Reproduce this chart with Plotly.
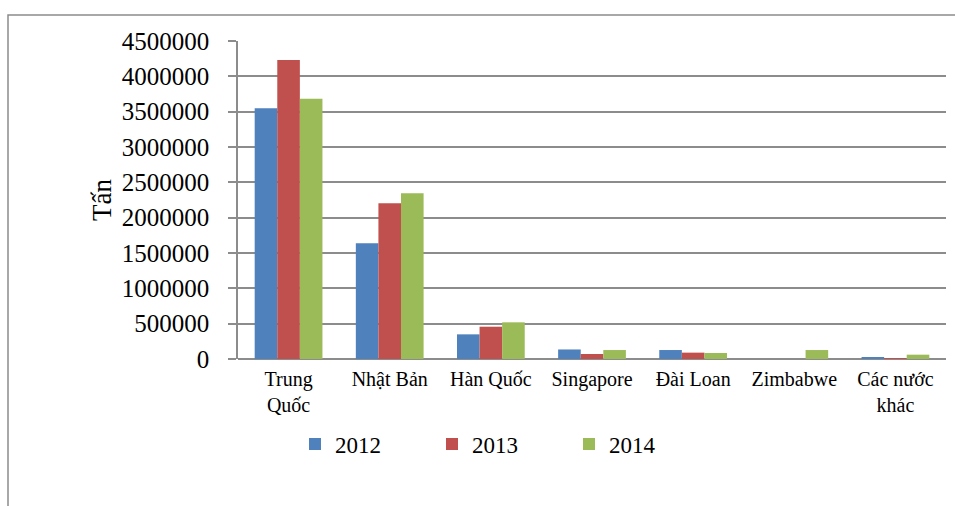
import plotly.graph_objects as go

# Tonnage by destination, 2012-2014
countries = ["Trung<br>Quốc", "Nhật Bản", "Hàn Quốc", "Singapore", "Đài Loan", "Zimbabwe", "Các nước<br>khác"]
years = ["2012", "2013", "2014"]
tons_2012 = [3548000, 1637000, 349000, 135000, 127000, 0, 28000]
tons_2013 = [4231000, 2203000, 457000, 71000, 90000, 0, 14000]
tons_2014 = [3683000, 2345000, 519000, 127000, 85000, 127000, 61000]
colors = ["#4F81BD", "#C0504D", "#9BBB59"]

y_ticks = [0, 500000, 1000000, 1500000, 2000000, 2500000, 3000000, 3500000, 4000000, 4500000]

W, H = 955, 506
ML, MR, MT, MB = 238, 9, 41, 147
PW, PH = W - ML - MR, H - MT - MB

fig = go.Figure()
for name, vals, col in zip(years, [tons_2012, tons_2013, tons_2014], colors):
    fig.add_trace(go.Bar(
        x=countries, y=vals, name=name,
        marker=dict(color=col, line=dict(width=0)),
    ))

serif = "Liberation Serif"

# outer frame of the chart area (top and left edges visible)
fig.add_shape(type="rect", xref="paper", yref="paper",
              x0=(8 - ML) / PW, x1=(W + 20 - ML) / PW,
              y0=(H - MB - (H + 20)) / PH, y1=(H - MB - 15) / PH,
              line=dict(color="#8C8C8C", width=1.5), fillcolor="rgba(0,0,0,0)", layer="below")

fig.update_layout(
    width=W, height=H,
    margin=dict(l=ML, r=MR, t=MT, b=MB, pad=0),
    paper_bgcolor="white", plot_bgcolor="white",
    barmode="group", bargap=0.33, bargroupgap=0,
    font=dict(family=serif, color="#000000"),
    showlegend=True,
    legend=dict(orientation="h", x=(295 - ML) / PW, xanchor="left",
                y=(H - MB - 444) / PH, yanchor="middle",
                font=dict(size=23, family=serif),
                entrywidth=92, entrywidthmode="pixels",
                itemwidth=30, traceorder="normal", bgcolor="rgba(0,0,0,0)"),
    xaxis=dict(
        type="category",
        showgrid=False, showline=False, ticks="",
        tickfont=dict(size=20, family=serif),
        ticklabelstandoff=6,
        fixedrange=True,
    ),
    yaxis=dict(
        range=[0, 4500000],
        tickvals=y_ticks, ticktext=[str(v) for v in y_ticks],
        showgrid=True, gridcolor="#8C8C8C", gridwidth=2,
        showline=True, linecolor="#8C8C8C", linewidth=1.5,
        zeroline=True, zerolinecolor="#8C8C8C", zerolinewidth=2,
        ticks="outside", ticklen=8, tickcolor="#8C8C8C", tickwidth=1.5,
        tickfont=dict(size=25, family=serif),
        ticklabelstandoff=14,
        title=dict(text="Tấn", font=dict(size=27, family=serif), standoff=2),
    ),
)

fig.write_html("out.html")
